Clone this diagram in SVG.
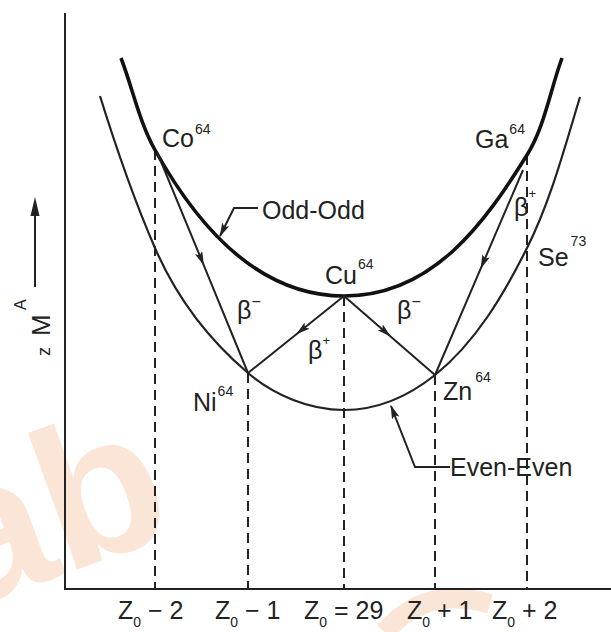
<svg xmlns="http://www.w3.org/2000/svg" width="611" height="632" viewBox="0 0 611 632">
<style>
.t{font-family:"Liberation Sans",Arial,sans-serif;font-size:25px;fill:#222}
.s{font-size:14px}
.ax{stroke:#222;stroke-width:2;fill:none}
.dash{stroke:#222;stroke-width:2;stroke-dasharray:10 6;fill:none}
.odd{stroke:#111;stroke-width:3.6;fill:none}
.even{stroke:#222;stroke-width:2.2;fill:none}
.dec{stroke:#222;stroke-width:2;fill:none;marker-mid:url(#ah)}
.lead{stroke:#222;stroke-width:2;fill:none;marker-end:url(#ah)}
.wm{font-family:"Liberation Sans",Arial,sans-serif;font-weight:bold;font-size:200px;fill:#fbe5d6}
</style>
<defs>
<marker id="ah" viewBox="0 0 14 8" refX="13" refY="4" markerWidth="14" markerHeight="8" markerUnits="userSpaceOnUse" orient="auto">
<path d="M0,0 L14,4 L0,8 L3,4 z" fill="#222"/>
</marker>
</defs>
<rect width="611" height="632" fill="#fff"/>
<g id="watermark">
<text class="wm" transform="translate(-40,612) rotate(-20)">ab</text>
<path d="M385,632 Q425,585 490,604" stroke="#fbe5d6" stroke-width="20" fill="none"/>
</g>
<g id="axes">
<line class="ax" x1="65" y1="13" x2="65" y2="589"/>
<line class="ax" x1="64" y1="589" x2="611" y2="589"/>
<line class="ax" x1="35" y1="287" x2="35" y2="212"/>
<polygon points="35,197 30.5,216 39.5,216" fill="#222"/>
<text class="t" transform="translate(50,356) rotate(-90)"><tspan font-size="18">z</tspan><tspan x="20" font-size="26">M</tspan><tspan x="46" dy="-24" font-size="16">A</tspan></text>
</g>
<g id="guides">
<line class="dash" x1="155" y1="150" x2="155" y2="589"/>
<line class="dash" x1="248" y1="373" x2="248" y2="589"/>
<line class="dash" x1="344" y1="296" x2="344" y2="589"/>
<line class="dash" x1="435" y1="375" x2="435" y2="589"/>
<line class="dash" x1="527" y1="155" x2="527" y2="589"/>
</g>
<g id="odd-odd">
<path class="odd" d="M121,58 C132.8,88.8 139,121.2 155,150 C193.9,219.9 254,296 344,296 C434,296 485.7,221 527,155 C544.5,127 550.6,89 562,58"/>
<text class="t" x="262" y="219">Odd-Odd</text>
</g>
<g id="even-even">
<path class="even" d="M100,96 C116,147.5 133.5,198.5 155,248 C175.7,295.7 208.4,339.3 248,373 C273.9,395 309,410 344,410 C378,410 409.3,395.6 435,375 C475.6,342.5 503.8,294.5 527,248 C550.7,200.6 564.6,147.7 580,97"/>
<text class="t" x="450" y="476">Even-Even</text>
</g>
<g id="Co64"><text class="t" x="162" y="147">Co<tspan class="s" dx="1" dy="-13">64</tspan></text></g>
<g id="Ga64"><text class="t" x="475" y="148">Ga<tspan class="s" dx="1" dy="-14">64</tspan></text></g>
<g id="Cu64"><text class="t" x="325" y="284">Cu<tspan class="s" dx="1" dy="-15">64</tspan></text></g>
<g id="Ni64"><text class="t" x="193" y="411">Ni<tspan class="s" dx="1" dy="-15">64</tspan></text></g>
<g id="Zn64"><text class="t" x="443" y="400">Zn<tspan class="s" dx="3" dy="-18">64</tspan></text></g>
<g id="Se73"><text class="t" x="538" y="266">Se<tspan class="s" dx="2" dy="-20">73</tspan></text></g>
<g id="connectors">
<path class="dec" d="M157,152 L203.5,264.6 L248,373"/>
<path class="dec" d="M344,296 L297,333.7 L248,373"/>
<path class="dec" d="M344,296 L390,335.9 L435,375"/>
<path class="dec" d="M523,170 L481,267.8 L435,375"/>
<path class="lead" d="M258,208 L234,208 L220,236"/>
<path class="lead" d="M450,467 L415,467 L391,406"/>
</g>
<g id="decay-labels">
<text class="t" x="237" y="319" font-size="24">β<tspan font-size="16" dy="-12">−</tspan></text>
<text class="t" x="397" y="319" font-size="24">β<tspan font-size="16" dy="-12">−</tspan></text>
<text class="t" x="308" y="359" font-size="24">β<tspan font-size="13" dy="-14">+</tspan></text>
<text class="t" x="514" y="216" font-size="22">β<tspan font-size="13" dy="-18">+</tspan></text>
</g>
<g id="z-labels">
<text class="t" x="118" y="619" font-size="24">Z<tspan font-size="14" dy="8">0</tspan><tspan dy="-8"> − 2</tspan></text>
<text class="t" x="215" y="619" font-size="24">Z<tspan font-size="14" dy="8">0</tspan><tspan dy="-8"> − 1</tspan></text>
<text class="t" x="304" y="619" font-size="24">Z<tspan font-size="14" dy="8">0</tspan><tspan dy="-8"> = 29</tspan></text>
<text class="t" x="407" y="619" font-size="24">Z<tspan font-size="14" dy="8">0</tspan><tspan dy="-8"> + 1</tspan></text>
<text class="t" x="492" y="619" font-size="24">Z<tspan font-size="14" dy="8">0</tspan><tspan dy="-8"> + 2</tspan></text>
</g>
</svg>
